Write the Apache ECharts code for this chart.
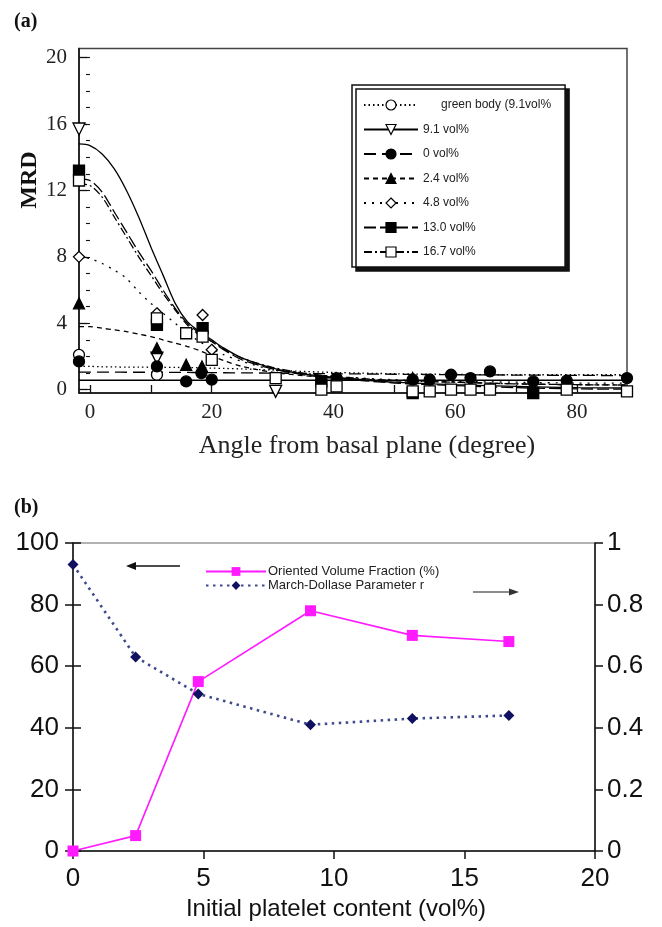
<!DOCTYPE html>
<html><head><meta charset="utf-8">
<script src="https://cdn.jsdelivr.net/npm/echarts@6/dist/echarts.min.js"></script>
<style>html,body{margin:0;padding:0;background:#fff}#c{width:662px;height:927px}</style>
</head><body><div id="c"></div>
<script>
// ================= Panel (a) data =================
const aXLabelTicks = [0, 20, 40, 60, 80];
const aXMinorTicks = [0, 10, 20, 30, 40, 50, 60, 70, 80];
const aYLabelTicks = [0, 4, 8, 12, 16, 20];
const aYMinorTicks = [0,1,2,3,4,5,6,7,8,9,10,11,12,13,14,15,16,17,18,19,20];
const seriesNames = ['green body (9.1vol%', '9.1 vol%', '0 vol%', '2.4 vol%', '4.8 vol%', '13.0 vol%', '16.7 vol%'];

// fitted curves (angle grid shared by all curves)
const curveX   = [-1.8, 0, 2, 4, 6, 8, 10, 12, 14, 16, 18, 20, 22, 25, 30, 35, 40, 50, 60, 70, 80, 88.2];
const fitGreen = [1.4, 1.4, 1.38, 1.37, 1.36, 1.36, 1.35, 1.35, 1.34, 1.33, 1.32, 1.3, 1.28, 1.25, 1.18, 1.1, 1.04, 0.96, 0.92, 0.9, 0.9, 0.9];
const fit91    = [14.8, 14.7, 14.2, 13.3, 12.0, 10.4, 8.6, 6.9, 5.2, 4.1, 3.5, 3.0, 2.5, 1.9, 1.3, 0.95, 0.75, 0.45, 0.3, 0.2, 0.12, 0.1];
const fit0     = [1.06, 1.06, 1.06, 1.06, 1.05, 1.05, 1.05, 1.05, 1.04, 1.04, 1.03, 1.03, 1.02, 1.01, 1.0, 0.98, 0.96, 0.93, 0.9, 0.88, 0.86, 0.85];
const fit24    = [3.8, 3.8, 3.7, 3.6, 3.5, 3.35, 3.2, 3.0, 2.8, 2.6, 2.35, 2.05, 1.75, 1.4, 1.05, 0.85, 0.7, 0.55, 0.45, 0.35, 0.3, 0.28];
const fit48    = [8.0, 7.9, 7.6, 7.2, 6.7, 5.9, 5.2, 4.6, 4.0, 3.4, 2.9, 2.5, 2.1, 1.7, 1.2, 0.95, 0.8, 0.6, 0.5, 0.45, 0.4, 0.4];
const fit130   = [12.7, 12.6, 11.9, 10.7, 9.5, 8.3, 7.2, 6.0, 4.9, 4.0, 3.4, 2.9, 2.4, 1.8, 1.25, 0.9, 0.7, 0.4, 0.25, 0.12, 0.05, 0.03];
const fit167   = [12.4, 12.3, 11.6, 10.4, 9.2, 8.0, 6.9, 5.8, 4.8, 3.9, 3.3, 2.9, 2.45, 1.9, 1.35, 1.0, 0.8, 0.55, 0.45, 0.35, 0.3, 0.28];
const flatX    = [-1.8, 88.2];
const flatY    = [0.57, 0.57];

// measured points [angle, MRD]
const ptsGreen = [[-1.8, 2.1], [11, 0.9]];
const pts91    = [[-1.8, 15.7], [11, 1.9], [30.5, -0.1]];
const pts0     = [[-1.8, 1.7], [11, 1.4], [15.8, 0.5], [18.3, 1.0], [20, 0.6], [38, 0.5], [40.5, 0.7], [53, 0.6], [55.8, 0.6], [59.3, 0.9], [62.5, 0.7], [65.7, 1.1], [72.8, 0.5], [78.3, 0.55], [88.2, 0.7]];
const pts24    = [[-1.8, 5.2], [11, 2.5], [15.8, 1.5], [18.4, 1.4], [53, 0.7]];
const pts48    = [[-1.8, 8.0], [11, 4.6], [18.5, 4.5], [20, 2.4]];
const pts130   = [[-1.8, 13.2], [11, 3.9], [18.5, 3.7], [38, 0.5], [53, -0.2], [72.8, -0.2]];
const pts167   = [[-1.8, 12.6], [11, 4.3], [15.8, 3.4], [18.5, 3.2], [20, 1.8], [30.5, 0.7], [38, 0.0], [40.5, 0.2], [53, -0.1], [55.8, -0.1], [59.3, 0.0], [62.5, 0.0], [65.7, 0.0], [78.3, 0.0], [88.2, -0.1]];

// ================= Panel (b) data =================
const bXTicks   = [0, 5, 10, 15, 20];
const bContent  = [0, 2.4, 4.8, 9.1, 13.0, 16.7];
const bOVF      = [0, 5, 55, 78, 70, 68];
const bR        = [0.93, 0.63, 0.51, 0.41, 0.43, 0.44];
const bNames    = ['Oriented Volume Fraction (%)', 'March-Dollase Parameter r'];

// ================= styles =================
const topFits = [fitGreen, fit91, fit0, fit24, fit48, fit130, fit167];
const topPts  = [ptsGreen, pts91, pts0, pts24, pts48, pts130, pts167];
const topStyle = [
  {symbol: 'circle',   rotate: 0,   fill: '#fff', dash: [1.5, 3],       size: 11},
  {symbol: 'triangle', rotate: 180, fill: '#fff', dash: 'solid',        size: 12},
  {symbol: 'circle',   rotate: 0,   fill: '#000', dash: [12, 6],        size: 11},
  {symbol: 'triangle', rotate: 0,   fill: '#000', dash: [5, 4],         size: 11},
  {symbol: 'diamond',  rotate: 0,   fill: '#fff', dash: [2, 6],         size: 11},
  {symbol: 'rect',     rotate: 0,   fill: '#000', dash: [12, 4],        size: 11},
  {symbol: 'rect',     rotate: 0,   fill: '#fff', dash: [8, 3, 2, 3],   size: 11}
];

const series = [];
seriesNames.forEach((name, k) => {
  const st = topStyle[k];
  series.push({
    type: 'line', name, xAxisIndex: 0, yAxisIndex: 0,
    data: curveX.map((x, i) => [x, topFits[k][i]]),
    smooth: 0.3, showSymbol: false, symbol: st.symbol, symbolRotate: st.rotate,
    lineStyle: {color: '#000', width: 1.3, type: st.dash},
    itemStyle: {color: st.fill, borderColor: '#000', borderWidth: 1.2},
    z: 2, silent: true
  });
});
series.push({
  type: 'line', name: 'flat', xAxisIndex: 0, yAxisIndex: 0,
  data: flatX.map((x, i) => [x, flatY[i]]), showSymbol: false, symbol: 'none',
  lineStyle: {color: '#000', width: 1.5}, z: 2, silent: true
});
seriesNames.forEach((name, k) => {
  const st = topStyle[k];
  series.push({
    type: 'scatter', name, xAxisIndex: 0, yAxisIndex: 0,
    data: topPts[k], symbol: st.symbol, symbolRotate: st.rotate, symbolSize: st.size,
    itemStyle: {color: st.fill, borderColor: '#000', borderWidth: 1.3, opacity: 1},
    z: 5, silent: true
  });
});
// panel b
series.push({
  type: 'line', name: bNames[0], xAxisIndex: 1, yAxisIndex: 2,
  data: bContent.map((x, i) => [x, bOVF[i]]),
  symbol: 'rect', symbolSize: 11,
  lineStyle: {color: '#ff1aff', width: 1.6},
  itemStyle: {color: '#ff1aff'}, z: 4
});
series.push({
  type: 'line', name: bNames[1], xAxisIndex: 1, yAxisIndex: 4,
  data: bContent.map((x, i) => [x, bR[i]]),
  symbol: 'diamond', symbolSize: 11,
  lineStyle: {color: '#3f4a8c', width: 2.6, type: [2.5, 4.5]},
  itemStyle: {color: '#101060'}, z: 4
});

const serif = 'Liberation Serif';
const sans = 'Liberation Sans';

const option = {
  animation: false,
  backgroundColor: '#fff',
  grid: [
    {left: 79, right: 35, top: 48.5, bottom: 534, show: true, borderColor: '#444', borderWidth: 1.5, outerBoundsMode: 'none'},
    {left: 73, right: 67, top: 543, bottom: 76, show: true, borderColor: '#999', borderWidth: 1.5, outerBoundsMode: 'none'}
  ],
  xAxis: [
    {gridIndex: 0, type: 'value', min: -1.8, max: 88.2,
      axisLine: {show: true, onZero: false, lineStyle: {color: '#111', width: 1.5}},
      axisTick: {show: true, inside: true, length: 8, customValues: aXMinorTicks, lineStyle: {color: '#111', width: 1.3}},
      axisLabel: {customValues: aXLabelTicks, margin: 9, fontFamily: serif, fontSize: 21, color: '#222'},
      splitLine: {show: false}},
    {gridIndex: 1, type: 'value', min: 0, max: 20, interval: 5,
      axisLine: {show: true, onZero: false, lineStyle: {color: '#111', width: 1.5}},
      axisTick: {show: true, inside: false, length: 8, lineStyle: {color: '#111', width: 1.5}},
      axisLabel: {margin: 15, fontFamily: sans, fontSize: 26, color: '#111', customValues: bXTicks},
      splitLine: {show: false}},
    {gridIndex: 1, type: 'value', min: 0, max: 20, interval: 5,
      axisLine: {show: false},
      axisTick: {show: true, inside: true, length: 8, lineStyle: {color: '#111', width: 1.5}},
      axisLabel: {show: false}, splitLine: {show: false}}
  ],
  yAxis: [
    {gridIndex: 0, type: 'value', min: -0.2, max: 20.55,
      axisLine: {show: true, onZero: false, lineStyle: {color: '#111', width: 1.5}},
      axisTick: {show: true, inside: true, length: 8, customValues: aYLabelTicks, lineStyle: {color: '#111', width: 1.3}},
      axisLabel: {customValues: aYLabelTicks, margin: 12, fontFamily: serif, fontSize: 21, color: '#222'},
      splitLine: {show: false}},
    {gridIndex: 0, type: 'value', min: -0.2, max: 20.55,
      axisLine: {show: false},
      axisTick: {show: true, inside: true, length: 4, customValues: aYMinorTicks, lineStyle: {color: '#111', width: 1.1}},
      axisLabel: {show: false}, splitLine: {show: false}},
    {gridIndex: 1, type: 'value', position: 'left', min: 0, max: 100, interval: 20,
      axisLine: {show: true, onZero: false, lineStyle: {color: '#111', width: 1.5}},
      axisTick: {show: true, inside: false, length: 8, lineStyle: {color: '#111', width: 1.5}},
      axisLabel: {margin: 14, fontFamily: sans, fontSize: 26, color: '#111'},
      splitLine: {show: false}},
    {gridIndex: 1, type: 'value', position: 'left', min: 0, max: 100, interval: 20,
      axisLine: {show: false},
      axisTick: {show: true, inside: true, length: 8, lineStyle: {color: '#111', width: 1.5}},
      axisLabel: {show: false}, splitLine: {show: false}},
    {gridIndex: 1, type: 'value', position: 'right', min: 0, max: 1, interval: 0.2,
      axisLine: {show: true, onZero: false, lineStyle: {color: '#111', width: 1.5}},
      axisTick: {show: true, inside: false, length: 8, lineStyle: {color: '#111', width: 1.5}},
      axisLabel: {margin: 12, fontFamily: sans, fontSize: 26, color: '#111', formatter: v => String(+v.toFixed(1))},
      splitLine: {show: false}},
    {gridIndex: 1, type: 'value', position: 'right', min: 0, max: 1, interval: 0.2,
      axisLine: {show: false},
      axisTick: {show: true, inside: true, length: 8, lineStyle: {color: '#111', width: 1.5}},
      axisLabel: {show: false}, splitLine: {show: false}}
  ],
  legend: [
    {data: seriesNames, orient: 'vertical', left: 352, top: 85,
      padding: [13, 14, 8, 11], itemWidth: 54, itemHeight: 12.5, itemGap: 10.5,
      backgroundColor: '#fff', borderColor: '#111', borderWidth: 1.5,
      shadowColor: '#111', shadowBlur: 0, shadowOffsetX: 4, shadowOffsetY: 4,
      selectedMode: false,
      textStyle: {fontFamily: sans, fontSize: 12, color: '#222', lineHeight: 14,
        rich: {g: {fontFamily: sans, fontSize: 12, color: '#222', padding: [0, 0, 0, 18]}}},
      formatter: n => n.indexOf('green') === 0 ? '{g|' + n + '}' : n,
      itemStyle: {borderWidth: 1.2}},
    {data: bNames, orient: 'vertical', left: 205, top: 565,
      padding: 0, itemWidth: 60, itemHeight: 11, itemGap: 1, selectedMode: false,
      textStyle: {fontFamily: sans, fontSize: 13, color: '#222', lineHeight: 12, padding: [0, 0, 0, -3]}}
  ],
  graphic: [
    {type: 'text', x: 14, y: 22, style: {text: '(a)', font: 'bold 20px "Liberation Serif"', fill: '#111', textVerticalAlign: 'middle'}},
    {type: 'text', x: 30, y: 180, rotation: Math.PI / 2, style: {text: 'MRD', font: 'bold 24px "Liberation Serif"', fill: '#111', textAlign: 'center', textVerticalAlign: 'middle'}},
    {type: 'text', x: 367, y: 446, style: {text: 'Angle from basal plane (degree)', font: '26px "Liberation Serif"', fill: '#222', textAlign: 'center', textVerticalAlign: 'middle'}},
    {type: 'text', x: 14, y: 508, style: {text: '(b)', font: 'bold 20px "Liberation Serif"', fill: '#111', textVerticalAlign: 'middle'}},
    {type: 'text', x: 336, y: 909, style: {text: 'Initial platelet content (vol%)', font: '24px "Liberation Sans"', fill: '#111', textAlign: 'center', textVerticalAlign: 'middle'}},
    {type: 'line', shape: {x1: 133, y1: 566, x2: 180, y2: 566}, style: {stroke: '#111', lineWidth: 1.5}},
    {type: 'polygon', shape: {points: [[126, 566], [136, 562], [136, 570]]}, style: {fill: '#111'}},
    {type: 'line', shape: {x1: 473, y1: 592, x2: 512, y2: 592}, style: {stroke: '#666', lineWidth: 1.5}},
    {type: 'polygon', shape: {points: [[519, 592], [509, 588.5], [509, 595.5]]}, style: {fill: '#333'}}
  ],
  series
};
const chart = echarts.init(document.getElementById('c'));
chart.setOption(option);
</script></body></html>
